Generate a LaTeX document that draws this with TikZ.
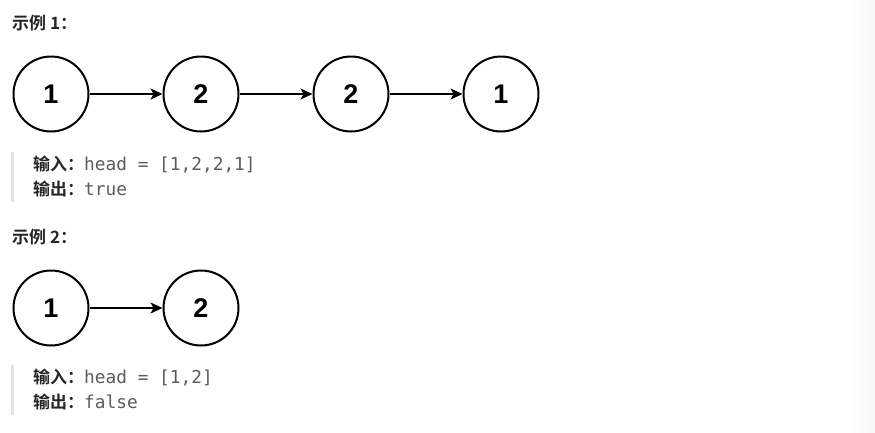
\documentclass[tikz,border=0pt]{standalone}
\usepackage{fontspec}
\setmainfont{Liberation Sans}
\setmonofont{DejaVu Sans Mono}
\newfontfamily\cjk{Noto Sans CJK SC}[BoldFont={Noto Sans CJK SC Bold}]
\usetikzlibrary{arrows.meta}
\definecolor{Ink}{HTML}{262626}
\definecolor{Code}{HTML}{5C5C5C}
\definecolor{Bar}{HTML}{E3E3E3}

\begin{document}
\begin{tikzpicture}[x=1pt,y=-1pt,
    elem/.style={circle,draw=black,line width=2pt,minimum size=75pt,
      inner sep=0pt,font=\fontsize{27}{27}\selectfont\bfseries},
    link/.style={-{Stealth[length=12pt,width=11pt,inset=3pt]},line width=1.8pt},
    title/.style={anchor=base west,text=Ink,
      font=\cjk\fontsize{17}{17}\selectfont\bfseries},
    io/.style={anchor=base west,text=Code,inner sep=0pt,
      font=\ttfamily\fontsize{17.8}{17.8}\selectfont}
  ]
    \useasboundingbox[fill=white] (0,0) rectangle (875,432);
    \shade[left color=white,right color=black!3,draw=none] (848,0) rectangle (875,432);

    % example 1
    \node[title,inner sep=0pt] (t1) at (12,29) {示例 1：};
    \foreach \i/\v in {1/1,2/2,3/2,4/1}
      \node[elem] (a\i) at ({51+150*(\i-1)},94) {\v};
    \foreach \i/\j in {1/2,2/3,3/4}
      \draw[link] (a\i)--(a\j);
    \node[io] (in1) at (33,170)
      {{\cjk\bfseries\fontsize{17}{17}\selectfont\color{Ink}输入：}head = [1,2,2,1]};
    \node[io] (out1) at (33,195)
      {{\cjk\bfseries\fontsize{17}{17}\selectfont\color{Ink}输出：}true};
    \fill[Bar] (11,152) rectangle (13.5,202);

    % example 2
    \node[title,inner sep=0pt] (t2) at (12,243) {示例 2：};
    \node[elem] (b1) at (51,308) {1};
    \node[elem] (b2) at (201,308) {2};
    \draw[link] (b1)--(b2);
    \node[io] (in2) at (33,383)
      {{\cjk\bfseries\fontsize{17}{17}\selectfont\color{Ink}输入：}head = [1,2]};
    \node[io] (out2) at (33,408)
      {{\cjk\bfseries\fontsize{17}{17}\selectfont\color{Ink}输出：}false};
    \fill[Bar] (11,365) rectangle (13.5,415);
  \end{tikzpicture}
\end{document}
